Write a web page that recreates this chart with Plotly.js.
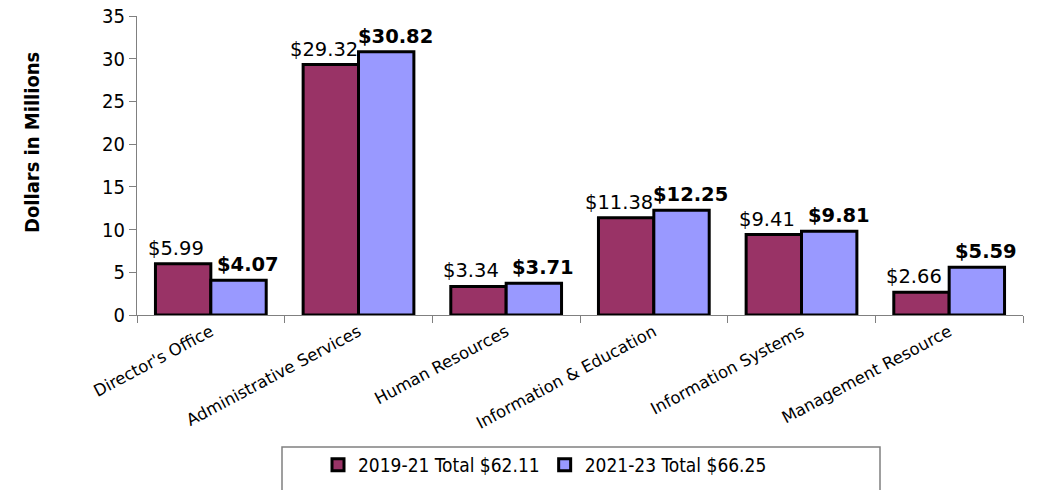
<!DOCTYPE html>
<html><head><meta charset="utf-8">
<script src="https://cdn.plot.ly/plotly-3.0.1.min.js"></script>
<style>html,body{margin:0;padding:0;background:#fff}</style>
</head><body>
<div id="chart" style="width:1046px;height:490px"></div>
<script>
const categories = ["Director's Office","Administrative Services","Human Resources","Information & Education","Information Systems","Management Resource"];
const values2019 = [5.99, 29.32, 3.34, 11.38, 9.41, 2.66];
const values2021 = [4.07, 30.82, 3.71, 12.25, 9.81, 5.59];
const seriesNames = ["2019-21 Total $62.11", "2021-23 Total $66.25"];
const yTicks = [0,5,10,15,20,25,30,35];
const FONT = '"DejaVu Sans", Verdana, sans-serif';
const CFONT = '"DejaVu Sans Condensed", "DejaVu Sans", Verdana, sans-serif';

const traces = [
  {type:'bar', x:categories, y:values2019, name:seriesNames[0],
   marker:{color:'#993366', line:{color:'#000', width:3}}, hoverinfo:'none'},
  {type:'bar', x:categories, y:values2021, name:seriesNames[1],
   marker:{color:'#9999FF', line:{color:'#000', width:3}}, hoverinfo:'none'}
];

const L=137, R=1023, T=16, B=315;
const pw=R-L, ph=B-T;
const px = v => (v-L)/pw;
const py = v => (B-v)/ph;

const valueLabels = [];
categories.forEach((c,i) => {
  valueLabels.push({x:c, y:values2019[i], xref:'x', yref:'y', text:'$'+values2019[i].toFixed(2),
    showarrow:false, xanchor:'center', yanchor:'bottom', xshift:-35, yshift:2,
    font:{size:19.5, family:FONT, color:'#000'}});
  valueLabels.push({x:c, y:values2021[i], xref:'x', yref:'y', text:'<b>$'+values2021[i].toFixed(2)+'</b>',
    showarrow:false, xanchor:'center', yanchor:'bottom', xshift:37, yshift:2,
    font:{size:19.5, family:FONT, color:'#000'}});
});

const layout = {
  width:1046, height:490,
  margin:{l:L, r:1046-R, t:T, b:490-B, pad:0, autoexpand:false},
  paper_bgcolor:'#fff', plot_bgcolor:'#fff',
  font:{family:FONT, color:'#000'},
  barmode:'group', bargap:0.25, bargroupgap:0,
  showlegend:true,
  legend:{orientation:'h', x:px(545), xanchor:'center', y:py(446), yanchor:'top',
    font:{size:19, family:CFONT}, bgcolor:'rgba(0,0,0,0)', borderwidth:0,
    itemwidth:30, traceorder:'normal'},
  xaxis:{type:'category', showline:true, linecolor:'#808080', linewidth:1,
    ticks:'outside', tickson:'boundaries', ticklen:7, tickcolor:'#808080',
    tickangle:-28, tickfont:{size:16.5, family:FONT}, showgrid:false, zeroline:false,
    automargin:false},
  yaxis:{range:[0,35], tickvals:yTicks, ticktext:yTicks.map(String),
    showline:true, linecolor:'#808080', linewidth:1,
    ticks:'outside', ticklen:7, tickcolor:'#808080',
    tickfont:{size:20, family:CFONT}, showgrid:false, zeroline:false, automargin:false},
  annotations:[{text:'<b>Dollars in Millions</b>', textangle:-90, xref:'paper', yref:'paper',
    x:px(32), y:py(143), showarrow:false, font:{size:20, family:CFONT},
    xanchor:'center', yanchor:'middle'}].concat(valueLabels),
  shapes:[{type:'rect', xref:'paper', yref:'paper', x0:px(282), x1:px(880), y0:py(447), y1:py(495),
    line:{color:'#808080', width:1.5}, fillcolor:'rgba(0,0,0,0)', layer:'above'}]
};

Plotly.newPlot('chart', traces, layout, {displayModeBar:false, staticPlot:true});
</script>
</body></html>
